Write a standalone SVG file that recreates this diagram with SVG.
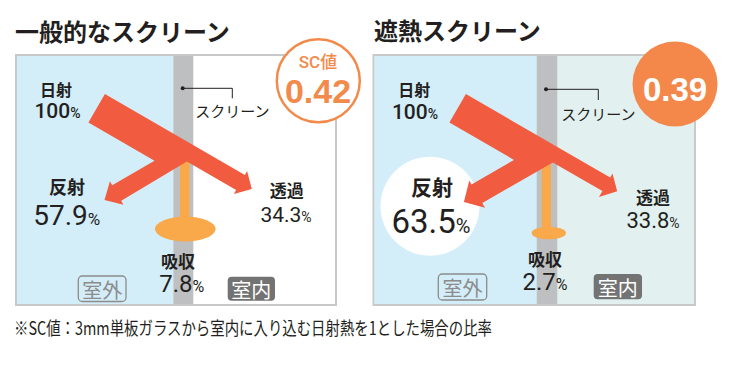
<svg xmlns="http://www.w3.org/2000/svg" width="732" height="366" viewBox="0 0 732 366">
<style>
.jp{font-family:"Noto Sans CJK JP","Noto Sans",sans-serif;fill:#231f20}
.b{font-weight:bold}
.num{font-family:Roboto,"Liberation Sans",sans-serif;fill:#231f20}
.mid{text-anchor:middle}
.arrow{fill:#f15c40}
.stem{fill:#f9a84a}
.screen{fill:#bebfc1}
.blue{fill:#d3edf9}
.frame{stroke:#c8c9ca;stroke-width:2}
.call{fill:none;stroke:#231f20;stroke-width:1}
.out{fill:none;stroke:#8c8c8c;stroke-width:1.3}
.inb{fill:#737373}
</style>

<text id="title-left" class="jp b" x="15" y="41" font-size="24">一般的なスクリーン</text>
<text id="title-right" class="jp b" x="374" y="40" font-size="24">遮熱スクリーン</text>

<!-- left panel -->
<g id="panel-left">
<rect class="frame" x="16" y="55" width="320" height="250" fill="#ffffff"/>
<rect class="blue" x="17" y="56" width="156.3" height="248"/>
<rect class="screen" x="173.3" y="56" width="20" height="248"/>
</g>
<!-- right panel -->
<g id="panel-right">
<rect class="frame" x="373.5" y="55" width="321.5" height="250" fill="#e2f1f0"/>
<rect class="blue" x="374.5" y="56" width="162.2" height="248"/>
<rect class="screen" x="536.7" y="56" width="20.6" height="248"/>
</g>

<g id="connectors">
<g id="absorb-left">
<rect class="stem" x="180" y="158" width="9.5" height="70"/>
<ellipse class="stem" cx="185.3" cy="229" rx="30.3" ry="12.5"/>
</g>
<g id="absorb-right">
<rect class="stem" x="541.7" y="160" width="9.3" height="72"/>
<ellipse class="stem" cx="548.8" cy="233" rx="17.2" ry="6.3"/>
</g>
<circle id="reflect-bg-right" cx="430" cy="206.3" r="49.5" fill="#ffffff"/>
<polygon id="flow-left" class="arrow" points="104.9,94.1 244.9,174.9 247.1,171.0 251.8,188.9 233.9,193.9 236.1,190.0 186.9,161.6 121.2,200.8 123.4,204.7 104.5,200.0 109.9,181.3 112.2,185.2 154.5,160.8 88.4,122.6"/>
<polygon id="flow-right" class="arrow" points="465.9,94.1 610.2,177.4 612.5,173.5 617.2,191.3 599.0,196.9 602.4,191.0 552.8,162.4 482.3,203.1 485.0,207.8 463.9,202.1 469.3,180.6 471.5,184.5 514,159.9 449.4,122.6"/>
<g id="callout-left">
<circle cx="182.7" cy="88.3" r="2" fill="#231f20"/>
<polyline class="call" points="182.7,88.3 232.3,88.3 232.3,98.3"/>
</g>
<g id="callout-right">
<circle cx="546" cy="89.3" r="2" fill="#231f20"/>
<polyline class="call" points="546,89.3 598.3,89.3 598.3,100"/>
</g>
</g>

<!-- left labels -->
<g id="sun-left">
<text class="jp b mid" x="56" y="95.5" font-size="16">日射</text>
<text class="num mid" x="57.5" y="118.3" font-size="21" font-weight="500">100<tspan font-size="14">%</tspan></text>
</g>
<g id="reflect-left">
<text class="jp b mid" x="67" y="194" font-size="18">反射</text>
<text class="num mid" x="66.7" y="225" font-size="28">57.9<tspan font-size="17">%</tspan></text>
</g>
<g id="trans-left">
<text class="jp b mid" x="286.7" y="197" font-size="17">透過</text>
<text class="num mid" x="286" y="221.7" font-size="21">34.3<tspan font-size="14">%</tspan></text>
</g>
<g id="absorbtxt-left">
<text class="jp b mid" x="178" y="267.5" font-size="17">吸収</text>
<text class="num mid" x="181.7" y="292" font-size="24">7.8<tspan font-size="16">%</tspan></text>
</g>
<g id="outside-left">
<rect class="out" x="78.3" y="276" width="47.7" height="25.5" rx="4"/>
<text class="jp mid" x="102.2" y="297.5" font-size="20" style="fill:#8c8c8c">室外</text>
</g>
<g id="inside-left">
<rect class="inb" x="227.7" y="276.7" width="47.3" height="24" rx="4"/>
<text class="jp mid" x="251.3" y="297.5" font-size="20" style="fill:#ffffff">室内</text>
</g>
<text id="screen-label-left" class="jp mid" x="232.5" y="117" font-size="15">スクリーン</text>
<g id="sc-left">
<circle cx="318.3" cy="80.8" r="41.5" fill="#ffffff" stroke="#f28a4b" stroke-width="2.5"/>
<text class="mid" x="318" y="68.3" font-size="17" font-weight="500" fill="#f28a4b" font-family="Roboto,'Noto Sans CJK JP',sans-serif">SC値</text>
<text class="mid" x="318" y="103" font-size="34" font-weight="bold" fill="#f28a4b" font-family="'Liberation Sans',sans-serif">0.42</text>
</g>

<!-- right labels -->
<g id="sun-right">
<text class="jp b mid" x="414.3" y="96" font-size="16">日射</text>
<text class="num mid" x="415" y="119" font-size="21" font-weight="500">100<tspan font-size="14">%</tspan></text>
</g>
<g id="reflect-right">
<text class="jp b mid" x="432" y="195" font-size="21">反射</text>
<text class="num mid" x="431" y="233.3" font-size="33">63.5<tspan font-size="20">%</tspan></text>
</g>
<g id="trans-right">
<text class="jp b mid" x="653" y="204" font-size="17">透過</text>
<text class="num mid" x="653" y="228.3" font-size="22">33.8<tspan font-size="14">%</tspan></text>
</g>
<g id="absorbtxt-right">
<text class="jp b mid" x="545" y="265.5" font-size="17">吸収</text>
<text class="num mid" x="545" y="290" font-size="24">2.7<tspan font-size="16">%</tspan></text>
</g>
<g id="outside-right">
<rect class="out" x="438.3" y="274" width="48.4" height="26" rx="4"/>
<text class="jp mid" x="462.5" y="296" font-size="20" style="fill:#8c8c8c">室外</text>
</g>
<g id="inside-right">
<rect class="inb" x="593.7" y="274" width="48.3" height="25.3" rx="4"/>
<text class="jp mid" x="617.8" y="296" font-size="20" style="fill:#ffffff">室内</text>
</g>
<text id="screen-label-right" class="jp mid" x="598.5" y="120" font-size="15">スクリーン</text>
<g id="sc-right">
<circle cx="675" cy="84" r="42.5" fill="#f4874a"/>
<text class="mid" x="675" y="101" font-size="33" font-weight="bold" fill="#ffffff" font-family="'Liberation Sans',sans-serif">0.39</text>
</g>

<text id="footnote" class="jp" x="14" y="335" font-size="18" textLength="478" lengthAdjust="spacingAndGlyphs">※SC値：3mm単板ガラスから室内に入り込む日射熱を1とした場合の比率</text>
</svg>
